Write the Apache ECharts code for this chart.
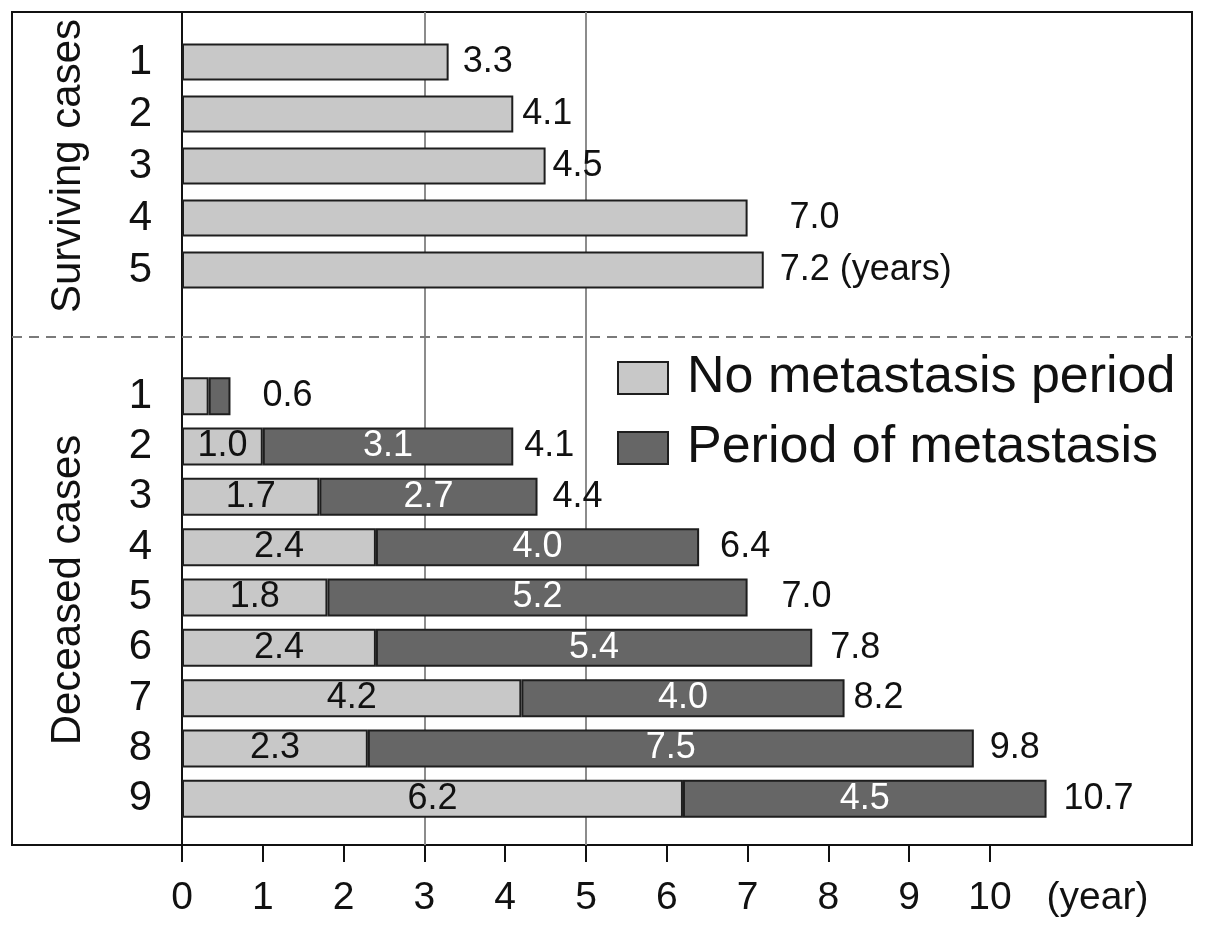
<!DOCTYPE html>
<html>
<head>
<meta charset="utf-8">
<script src="https://cdn.jsdelivr.net/npm/echarts@6/dist/echarts.min.js"></script>
<style>
html,body{margin:0;padding:0;background:#fff;}
#chart{width:1205px;height:927px;}
</style>
</head>
<body>
<div id="chart"></div>
<script>
// ---- data ----
const survivingCases = ['1', '2', '3', '4', '5'];
const survivingYears = [3.3, 4.1, 4.5, 7.0, 7.2];

const deceasedCases = ['1', '2', '3', '4', '5', '6', '7', '8', '9'];
const noMetastasis = [0.33, 1.0, 1.7, 2.4, 1.8, 2.4, 4.2, 2.3, 6.2];
const withMetastasis = [0.27, 3.1, 2.7, 4.0, 5.2, 5.4, 4.0, 7.5, 4.5];

const xTickValues = [0, 1, 2, 3, 4, 5, 6, 7, 8, 9, 10];
const unitLabelValue = 11.33;
const referenceLines = [3, 5];

// ---- styling (label gaps after bar ends) ----
const survivingLabelGap = [14, 9, 7, 42, 16];
const deceasedLabelGap = [32, 11, 15, 21, 34, 18, 9, 16, 17];

const FONT = 'Liberation Sans, Arial, Helvetica, sans-serif';
const LIGHT = '#c8c8c8';
const DARK = '#666666';
const EDGE = '#1e1e1e';
const XMAX = 12.5;
const XMIN_FRAME = -XMAX * 170 / 1010;

const deceasedTotals = noMetastasis.map((v, i) => +(v + withMetastasis[i]).toFixed(1));

const chart = echarts.init(document.getElementById('chart'), null, {renderer: 'canvas'});

const option = {
  animation: false,
  backgroundColor: '#fff',
  textStyle: {fontFamily: FONT},
  grid: [
    {left: 182, right: 13, top: 36, height: 260},
    {left: 182, right: 13, top: 371, height: 453},
    {left: 12, right: 13, top: 12, bottom: 82, show: true, borderColor: '#111', borderWidth: 2, backgroundColor: 'transparent', z: 0}
  ],
  legend: {
    data: ['No metastasis period', 'Period of metastasis'],
    orient: 'vertical',
    left: 612,
    top: 345,
    itemWidth: 50,
    itemHeight: 32,
    itemGap: 14,
    icon: 'rect',
    itemStyle: {borderColor: EDGE, borderWidth: 2},
    textStyle: {fontSize: 52, lineHeight: 56, color: '#111', fontFamily: FONT, padding: [0, 0, 0, 14]}
  },
  xAxis: [
    {gridIndex: 0, type: 'value', min: 0, max: XMAX, interval: 1, show: false},
    {
      gridIndex: 1, type: 'value', min: 0, max: XMAX, interval: 1,
      position: 'bottom', offset: 21,
      axisLine: {show: true, lineStyle: {color: '#111', width: 2}},
      axisTick: {show: true, customValues: xTickValues, length: 17, inside: false, lineStyle: {color: '#111', width: 2}},
      axisLabel: {
        show: true,
        customValues: xTickValues.concat([unitLabelValue]),
        formatter: v => (v > 10 ? '(year)' : String(v)),
        fontSize: 39, color: '#111', margin: 34, fontFamily: FONT
      },
      splitLine: {show: false}
    },
    {gridIndex: 2, type: 'value', min: XMIN_FRAME, max: XMAX, show: false}
  ],
  yAxis: [
    {
      gridIndex: 0, type: 'category', data: survivingCases, inverse: true,
      axisLine: {show: false}, axisTick: {show: false},
      axisLabel: {interval: 0, fontSize: 42, color: '#111', margin: 30, fontFamily: FONT},
      name: 'Surviving cases', nameLocation: 'middle', nameRotate: 90, nameGap: 93,
      nameTextStyle: {fontSize: 42, color: '#111', fontFamily: FONT}
    },
    {
      gridIndex: 1, type: 'category', data: deceasedCases, inverse: true,
      axisLine: {show: false}, axisTick: {show: false},
      axisLabel: {interval: 0, fontSize: 42, color: '#111', margin: 30, fontFamily: FONT},
      name: 'Deceased cases', nameLocation: 'middle', nameRotate: 90, nameGap: 93,
      nameTextStyle: {fontSize: 42, color: '#111', fontFamily: FONT, padding: [0, 0, 0, 15]}
    },
    {gridIndex: 2, type: 'value', min: 0, max: 1, inverse: true, show: false}
  ],
  series: [
    {
      name: 'frame',
      type: 'line',
      xAxisIndex: 2, yAxisIndex: 2,
      data: [],
      silent: true,
      markLine: {
        silent: true,
        symbol: 'none',
        z: 1,
        label: {show: false},
        data: referenceLines.map(v => ({xAxis: v, lineStyle: {color: '#8c8c8c', width: 2, type: 'solid'}}))
          .concat([
            {xAxis: 0, lineStyle: {color: '#111', width: 2, type: 'solid'}},
            {yAxis: 323 / 833, lineStyle: {color: '#7a7a7a', width: 2, type: [10, 7]}}
          ])
      }
    },
    {
      name: 'Surviving',
      type: 'bar',
      xAxisIndex: 0, yAxisIndex: 0,
      z: 10,
      barWidth: 37,
      data: survivingYears.map((v, i) => ({value: v, label: {distance: survivingLabelGap[i]}})),
      itemStyle: {color: LIGHT, borderColor: EDGE, borderWidth: 2},
      label: {
        show: true, position: 'right', fontSize: 36, color: '#111', fontFamily: FONT,
        formatter: p => p.value.toFixed(1) + (p.dataIndex === survivingYears.length - 1 ? ' (years)' : '')
      }
    },
    {
      name: 'No metastasis period',
      type: 'bar',
      stack: 'dec',
      xAxisIndex: 1, yAxisIndex: 1,
      z: 10,
      barWidth: 38,
      data: noMetastasis,
      itemStyle: {color: LIGHT, borderColor: EDGE, borderWidth: 2},
      label: {
        show: true, position: 'inside', fontSize: 36, color: '#111', fontFamily: FONT,
        formatter: p => (p.value < 0.5 ? '' : p.value.toFixed(1))
      }
    },
    {
      name: 'Period of metastasis',
      type: 'bar',
      stack: 'dec',
      xAxisIndex: 1, yAxisIndex: 1,
      z: 10,
      barWidth: 38,
      data: withMetastasis,
      itemStyle: {color: DARK, borderColor: EDGE, borderWidth: 2},
      label: {
        show: true, position: 'inside', fontSize: 36, color: '#fff', fontFamily: FONT,
        formatter: p => (p.value < 0.5 ? '' : p.value.toFixed(1))
      }
    },
    {
      name: 'Total',
      type: 'scatter',
      xAxisIndex: 1, yAxisIndex: 1,
      z: 11,
      symbolSize: 0,
      silent: true,
      itemStyle: {opacity: 1, color: '#111'},
      data: deceasedTotals.map((t, i) => ({value: [t, i], label: {distance: deceasedLabelGap[i]}})),
      label: {
        show: true, position: 'right', fontSize: 36, color: '#111', opacity: 1, fontFamily: FONT,
        formatter: p => p.value[0].toFixed(1)
      }
    }
  ]
};

chart.setOption(option);
</script>
</body>
</html>
